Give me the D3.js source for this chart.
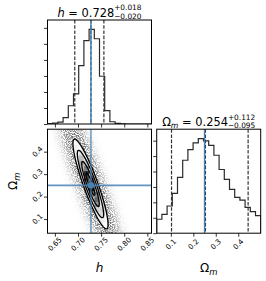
<!DOCTYPE html>
<html>
<head>
<meta charset="utf-8">
<script src="https://cdn.jsdelivr.net/npm/d3@7"></script>
<style>
body { margin: 0; background: #fff; }
svg { display: block; font-family: "DejaVu Sans", sans-serif; }
</style>
</head>
<body>
<script>
// marginal histograms, 20 bins over each range
const hRange = [0.634, 0.859];
const omRange = [0.037, 0.500];
const hCounts = [10, 30, 60, 200, 570, 940, 1820, 2600, 2950, 2660, 1490, 420, 70, 20, 5, 0, 0, 0, 0, 0];
const omCounts = [181, 245, 353, 516, 723, 946, 1084, 1170, 1226, 1196, 1140, 1011, 826, 697, 568, 465, 430, 335, 280, 228];

// dashed quantile lines and truth values
const hQuantiles = [0.693, 0.728, 0.756];
const omQuantiles = [0.103, 0.254, 0.444];
const truths = [0.728, 0.25];

const hTicks = [0.65, 0.70, 0.75, 0.80, 0.85];
const omTicks = [0.1, 0.2, 0.3, 0.4];

// titles: value, upper error, lower error
const hTitle = ["0.728", "+0.018", "\u22120.020"];
const omTitle = ["0.254", "+0.112", "\u22120.095"];

// 2d posterior summary
const meanH = 0.727, meanOm = 0.256;
const sdH = 0.019, sdOm = 0.100, rho = -0.90;
const contourSigmas = [0.5, 1, 1.5, 2];

const truthColor = "#4682b4";

let W = 266, H = 281;
let size = 104, gap = 5.2, marginL = 47.5, marginT = 20;
let colX = c => marginL + c * (size + gap);
let rowY = r => marginT + r * (size + gap);

let svg = d3.select("body").append("svg")
    .attr("width", W)
    .attr("height", H);

let xH = d3.scaleLinear().domain(hRange).range([colX(0), colX(0) + size]);
let xOm = d3.scaleLinear().domain(omRange).range([colX(1), colX(1) + size]);
let yOm = d3.scaleLinear().domain(omRange).range([rowY(1) + size, rowY(1)]);
let yHistH = d3.scaleLinear().domain([0, 1.1 * d3.max(hCounts)]).range([rowY(0) + size, rowY(0)]);
let yHistOm = d3.scaleLinear().domain([0, 1.1 * d3.max(omCounts)]).range([rowY(1) + size, rowY(1)]);

let defs = svg.append("defs");
[[0, 0], [0, 1], [1, 1]].forEach(function (p) {
    defs.append("clipPath").attr("id", "clip" + p[0] + p[1])
        .append("rect")
        .attr("x", colX(p[0])).attr("y", rowY(p[1]))
        .attr("width", size).attr("height", size);
});

// speckle texture for the sample cloud
let speckle = defs.append("filter").attr("id", "speckle")
    .attr("filterUnits", "userSpaceOnUse")
    .attr("x", colX(0)).attr("y", rowY(1)).attr("width", size).attr("height", size);
speckle.append("feTurbulence")
    .attr("type", "fractalNoise").attr("baseFrequency", 0.9)
    .attr("numOctaves", 2).attr("seed", 7).attr("result", "noise");
speckle.append("feColorMatrix")
    .attr("in", "noise").attr("type", "matrix")
    .attr("values", "0 0 0 0 0  0 0 0 0 0  0 0 0 0 0  4 0 0 0 -1.5")
    .attr("result", "mask");
speckle.append("feComposite")
    .attr("in", "SourceGraphic").attr("in2", "mask").attr("operator", "in");

function drawHist(g, counts, range, x, y) {
    let n = counts.length;
    let edges = d3.range(n + 1).map(i => range[0] + i * (range[1] - range[0]) / n);
    let pts = [[edges[0], 0]];
    counts.forEach(function (c, i) {
        pts.push([edges[i], c]);
        pts.push([edges[i + 1], c]);
    });
    pts.push([edges[n], 0]);
    g.append("path")
        .attr("d", d3.line().x(d => x(d[0])).y(d => y(d[1]))(pts))
        .attr("fill", "none")
        .attr("stroke", "#2a2a2a")
        .attr("stroke-width", 1.2);
}

function drawQuantiles(g, qs, x, y0, y1) {
    g.selectAll(null).data(qs).enter().append("line")
        .attr("x1", d => x(d)).attr("x2", d => x(d))
        .attr("y1", y0).attr("y2", y1)
        .attr("stroke", "#333")
        .attr("stroke-width", 1.2)
        .attr("stroke-dasharray", "3.6,1.6");
}

function frame(c, r) {
    svg.append("rect")
        .attr("x", colX(c)).attr("y", rowY(r))
        .attr("width", size).attr("height", size)
        .attr("fill", "none")
        .attr("stroke", "#000")
        .attr("stroke-width", 1);
}

function ticks(axis, transform) {
    let g = svg.append("g").attr("transform", transform)
        .call(axis.tickSize(3.5).tickFormat(""));
    g.select(".domain").remove();
    g.selectAll(".tick line").attr("stroke-width", 0.8);
    return g;
}

function tickLabels(vals, fmt, pos) {
    svg.append("g").selectAll("text").data(vals).enter().append("text")
        .attr("transform", d => "translate(" + pos(d) + ") rotate(-45)")
        .attr("text-anchor", "middle")
        .attr("dominant-baseline", "central")
        .attr("font-size", 7.2)
        .text(d => d3.format(fmt)(d));
}

// ---- top-left: h histogram
let gTop = svg.append("g").attr("clip-path", "url(#clip00)");
drawHist(gTop, hCounts, hRange, xH, yHistH);
drawQuantiles(gTop, hQuantiles, xH, rowY(0), rowY(0) + size);
gTop.append("line")
    .attr("x1", xH(truths[0])).attr("x2", xH(truths[0]))
    .attr("y1", rowY(0)).attr("y2", rowY(0) + size)
    .attr("stroke", truthColor).attr("stroke-width", 1.4);
frame(0, 0);
ticks(d3.axisBottom(xH).tickValues(hTicks), "translate(0," + (rowY(0) + size) + ")");
ticks(d3.axisLeft(yHistH).ticks(6), "translate(" + colX(0) + ",0)");

// ---- bottom-right: Omega_m histogram
let gRight = svg.append("g").attr("clip-path", "url(#clip11)");
drawHist(gRight, omCounts, omRange, xOm, yHistOm);
drawQuantiles(gRight, omQuantiles, xOm, rowY(1), rowY(1) + size);
gRight.append("line")
    .attr("x1", xOm(truths[1])).attr("x2", xOm(truths[1]))
    .attr("y1", rowY(1)).attr("y2", rowY(1) + size)
    .attr("stroke", truthColor).attr("stroke-width", 1.4);
frame(1, 1);
ticks(d3.axisBottom(xOm).tickValues(omTicks), "translate(0," + (rowY(1) + size) + ")");
ticks(d3.axisLeft(yHistOm).ticks(6), "translate(" + colX(1) + ",0)");

// ---- bottom-left: 2d panel
let g2 = svg.append("g").attr("clip-path", "url(#clip01)");
let det = Math.sqrt(1 - rho * rho);
function maha(h, om) {
    let u = (h - meanH) / sdH, v = (om - meanOm) / sdOm;
    return (u * u - 2 * rho * u * v + v * v) / (1 - rho * rho);
}
// the scattered samples reach further out than the contours
let cloud = [];
d3.range(size).forEach(function (i) {
    d3.range(size).forEach(function (j) {
        let h = xH.invert(colX(0) + i + 0.5), om = yOm.invert(rowY(1) + j + 0.5);
        let op = Math.min(1, 1.25 * Math.exp(-0.5 * maha(h, om) / 5));
        if (op > 0.01) cloud.push({i: i, j: j, op: op});
    });
});
g2.append("g").attr("filter", "url(#speckle)")
    .selectAll("rect").data(cloud).enter().append("rect")
    .attr("x", d => colX(0) + d.i).attr("y", d => rowY(1) + d.j)
    .attr("width", 1).attr("height", 1)
    .attr("fill", "#000")
    .attr("fill-opacity", d => d.op);

function ellipse(s) {
    return d3.range(73).map(function (k) {
        let a = k / 72 * 2 * Math.PI;
        let u = s * Math.cos(a), v = s * Math.sin(a);
        return [meanH + sdH * u, meanOm + sdOm * (rho * u + det * v)];
    });
}
let eLine = d3.line().x(d => xH(d[0])).y(d => yOm(d[1]));

g2.append("path")
    .attr("d", eLine(ellipse(d3.max(contourSigmas))))
    .attr("fill", "#fff");

let nb = 20, cells = [];
d3.range(nb).forEach(function (i) {
    d3.range(nb).forEach(function (j) {
        let h = hRange[0] + (i + 0.5) * (hRange[1] - hRange[0]) / nb;
        let om = omRange[0] + (j + 0.5) * (omRange[1] - omRange[0]) / nb;
        let d = Math.exp(-0.5 * maha(h, om));
        if (d > 0.01) cells.push({i: i, j: j, t: 1 - d});
    });
});
let cw = (hRange[1] - hRange[0]) / nb, ch = (omRange[1] - omRange[0]) / nb;
g2.append("g").selectAll("rect").data(cells).enter().append("rect")
    .attr("x", d => xH(hRange[0] + d.i * cw))
    .attr("y", d => yOm(omRange[0] + (d.j + 1) * ch))
    .attr("width", xH(hRange[0] + cw) - xH(hRange[0]))
    .attr("height", yOm(omRange[0]) - yOm(omRange[0] + ch))
    .attr("fill", d => d3.rgb(255 * d.t, 255 * d.t, 255 * d.t))
    .attr("fill-opacity", d => 1 - d.t);

g2.selectAll(".contour").data(contourSigmas).enter().append("path")
    .attr("d", s => eLine(ellipse(s)))
    .attr("fill", "none")
    .attr("stroke", "#000")
    .attr("stroke-width", 1.3);

g2.append("line")
    .attr("x1", xH(truths[0])).attr("x2", xH(truths[0]))
    .attr("y1", rowY(1)).attr("y2", rowY(1) + size)
    .attr("stroke", truthColor).attr("stroke-width", 1.2);
g2.append("line")
    .attr("x1", colX(0)).attr("x2", colX(0) + size)
    .attr("y1", yOm(truths[1])).attr("y2", yOm(truths[1]))
    .attr("stroke", truthColor).attr("stroke-width", 1.8)
    .attr("stroke-opacity", 0.85);
g2.append("circle")
    .attr("cx", xH(truths[0])).attr("cy", yOm(truths[1]))
    .attr("r", 3.3)
    .attr("fill", truthColor);
frame(0, 1);
ticks(d3.axisBottom(xH).tickValues(hTicks), "translate(0," + (rowY(1) + size) + ")");
ticks(d3.axisLeft(yOm).tickValues(omTicks), "translate(" + colX(0) + ",0)");

// tick labels
tickLabels(hTicks, ".2f", d => [xH(d), rowY(1) + size + 11]);
tickLabels(omTicks, ".1f", d => [xOm(d), rowY(1) + size + 11]);
tickLabels(omTicks, ".1f", d => [colX(0) - 10, yOm(d)]);

// axis labels
function omLabel(t, sub) {
    t.append("tspan").text("\u03a9");
    t.append("tspan").attr("font-style", "italic").attr("font-size", sub).attr("dy", 2.5).text("m");
}
svg.append("text")
    .attr("x", colX(0) + size / 2).attr("y", 272)
    .attr("text-anchor", "middle")
    .attr("font-size", 12)
    .attr("font-style", "italic")
    .text("h");
omLabel(svg.append("text")
    .attr("x", colX(1) + size / 2).attr("y", 272)
    .attr("text-anchor", "middle")
    .attr("font-size", 12), 8.5);
omLabel(svg.append("text")
    .attr("transform", "translate(17," + (rowY(1) + size / 2) + ") rotate(-90)")
    .attr("text-anchor", "middle")
    .attr("font-size", 12), 8.5);

// titles
function title(cx, baseline, label, vals) {
    let g = svg.append("g");
    let t = g.append("text").attr("y", baseline).attr("font-size", 11.4);
    let dy = label(t);
    t.append("tspan").attr("dy", dy).text(" = " + vals[0]);
    let w = t.node().getComputedTextLength();
    let sup = g.append("text").attr("x", w).attr("y", baseline - 6.2).attr("font-size", 7.4).text(vals[1]);
    let sub = g.append("text").attr("x", w).attr("y", baseline + 2.6).attr("font-size", 7.4).text(vals[2]);
    let total = w + Math.max(sup.node().getComputedTextLength(), sub.node().getComputedTextLength());
    g.attr("transform", "translate(" + (cx - total / 2) + ",0)");
}
title(colX(0) + size / 2, rowY(0) - 3.4, function (t) {
    t.append("tspan").attr("font-style", "italic").text("h");
    return 0;
}, hTitle);
title(colX(1) + size / 2, rowY(1) - 3.4, function (t) {
    omLabel(t, 7.8);
    return -2.5;
}, omTitle);
</script>
</body>
</html>
